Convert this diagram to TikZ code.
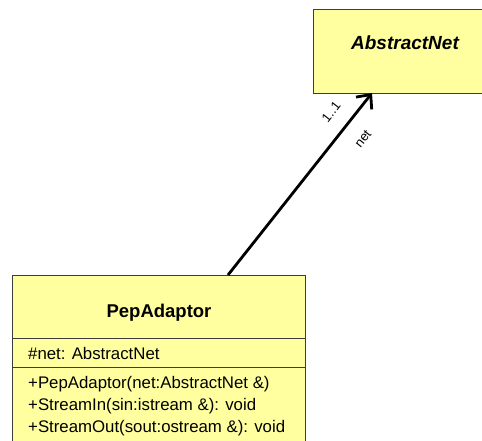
\documentclass[tikz,border=0pt]{standalone}
\usepackage{fontspec}
\setmainfont{Liberation Sans}
\usetikzlibrary{arrows.meta}
\definecolor{classfill}{RGB}{255,255,160}
\definecolor{classline}{RGB}{60,60,60}
\begin{document}
\begin{tikzpicture}[x=1pt,y=-1pt,
  classbox/.style={draw=classline, line width=0.9pt, fill=classfill, rectangle, inner sep=0pt},
  member/.style={anchor=base west, inner sep=0pt, font=\fontsize{16.8}{19}\selectfont},
  assoc/.style={line width=2.8pt, -{Straight Barb[length=11pt, width=20pt, line width=2.8pt]}},
  rolelabel/.style={inner sep=0pt, font=\fontsize{13}{15}\selectfont, rotate=51.6}]
\useasboundingbox (0,0) rectangle (482,441);
\clip (0,0) rectangle (482,441);

% abstract class
\node[classbox, minimum width=184pt, minimum height=84pt] (abs) at (405,51) {};
\node[anchor=base, inner sep=0pt, font=\fontsize{19}{22}\selectfont\bfseries\itshape] (absname) at (405,50) {AbstractNet};

% adaptor class with attribute and operation compartments
\node[classbox, minimum width=293pt, minimum height=190pt] (pep) at (158.5,370) {};
\node[anchor=base, inner sep=0pt, font=\fontsize{18.5}{22}\selectfont\bfseries] (pepname) at (159,317) {PepAdaptor};
\coordinate (d1l) at (12,338);
\coordinate (d1r) at (305,338);
\coordinate (d2l) at (12,367);
\coordinate (d2r) at (305,367);
\draw[classline, line width=0.9pt] (d1l) -- (d1r);
\draw[classline, line width=0.9pt] (d2l) -- (d2r);
\node[member] (attr) at (28,359) {\#net: AbstractNet};
\node[member] (op1) at (28,388) {+PepAdaptor(net:AbstractNet \&)};
\node[member] (op2) at (28,410) {+StreamIn(sin:istream \&): void};
\node[member] (op3) at (28,432) {+StreamOut(sout:ostream \&): void};

% navigable association
\coordinate (src) at (228,275);
\coordinate (dst) at (372,93);
\draw[assoc] (src) -- (dst);
\node[rolelabel] (mult) at (331,112) {1..1};
\node[rolelabel] (role) at (363,139) {net};
\end{tikzpicture}
\end{document}
